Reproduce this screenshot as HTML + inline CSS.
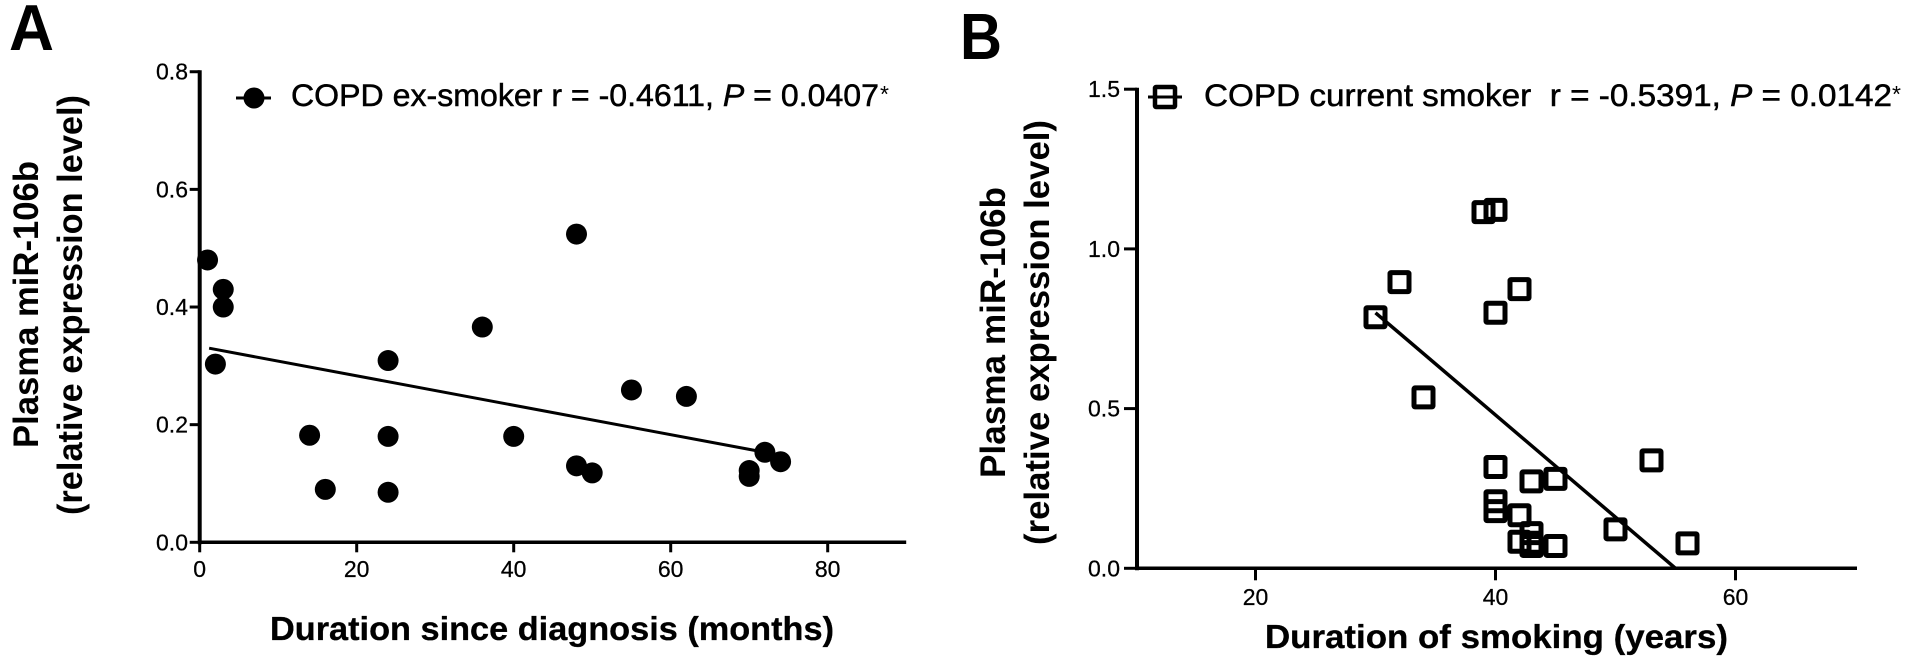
<!DOCTYPE html>
<html lang="en">
<head>
<meta charset="utf-8">
<title>Plasma miR-106b correlations</title>
<style>
html,body{margin:0;padding:0;background:#fff;}
svg{display:block;}
text{font-family:"Liberation Sans",Arial,sans-serif;fill:#000;}
.tick{font-size:23px;stroke:#000;stroke-width:.25px;}
.title{font-size:33px;font-weight:bold;stroke:#000;stroke-width:.3px;}
.ytitle{font-size:35px;font-weight:bold;}
.legend{font-size:31.5px;stroke:#000;stroke-width:.5px;}
.panel{font-size:65px;font-weight:bold;}
</style>
</head>
<body>
<svg id="fig" xmlns="http://www.w3.org/2000/svg" width="1913" height="670" viewBox="0 0 1913 670">
  <rect width="1913" height="670" fill="#fff"/>
  <text class="panel" x="9" y="50" textLength="45" lengthAdjust="spacingAndGlyphs">A</text>
  <text class="panel" x="960" y="59" textLength="42" lengthAdjust="spacingAndGlyphs">B</text>

  <g id="chartA">
    <text class="ytitle" transform="translate(38,448) rotate(-90)" textLength="287" lengthAdjust="spacingAndGlyphs">Plasma miR-106b</text>
    <text class="ytitle" transform="translate(82,515) rotate(-90)" textLength="420" lengthAdjust="spacingAndGlyphs">(relative expression level)</text>
    <text class="title" x="270" y="640" textLength="564" lengthAdjust="spacingAndGlyphs">Duration since diagnosis (months)</text>
    <text class="legend" x="291" y="106" textLength="588" lengthAdjust="spacingAndGlyphs">COPD ex-smoker r = -0.4611, <tspan font-style="italic">P</tspan> = 0.0407</text>
    <text x="880" y="102" font-size="23">*</text>
  </g>

  <g id="chartB">
    <text class="ytitle" transform="translate(1005,478) rotate(-90)" textLength="291" lengthAdjust="spacingAndGlyphs">Plasma miR-106b</text>
    <text class="ytitle" transform="translate(1049,545) rotate(-90)" textLength="425" lengthAdjust="spacingAndGlyphs">(relative expression level)</text>
    <text class="title" x="1265" y="648" textLength="463" lengthAdjust="spacingAndGlyphs">Duration of smoking (years)</text>
    <text class="legend" x="1204" y="106" textLength="688" lengthAdjust="spacingAndGlyphs" xml:space="preserve">COPD current smoker  r = -0.5391, <tspan font-style="italic">P</tspan> = 0.0142</text>
    <text x="1892" y="102" font-size="23">*</text>
  </g>
</svg>
<script>
// Panel A data
const aTicksX = [0, 20, 40, 60, 80];
const aTicksY = [0.0, 0.2, 0.4, 0.6, 0.8];
const aMonths = [1, 3, 3, 2, 14, 16, 24, 24, 24, 36, 40, 48, 48, 50, 55, 62, 70, 70, 72, 74];
const aLevels = [0.48, 0.43, 0.40, 0.303, 0.182, 0.09, 0.309, 0.18, 0.085, 0.366, 0.18, 0.524, 0.13, 0.118, 0.259, 0.248, 0.122, 0.112, 0.153, 0.137];
const aFitX = [1.2, 72];
const aFitY = [0.33, 0.153];

// Panel B data
const bTicksX = [20, 40, 60];
const bTicksY = [0.0, 0.5, 1.0, 1.5];
const bYears = [39, 40, 32, 42, 30, 40, 34, 40, 43, 45, 53, 40, 40, 42, 50, 56, 42, 43, 43, 43, 45];
const bLevels = [1.115, 1.122, 0.896, 0.874, 0.786, 0.80, 0.535, 0.317, 0.272, 0.28, 0.338, 0.21, 0.179, 0.166, 0.122, 0.078, 0.083, 0.11, 0.08, 0.07, 0.07];
const bFitX = [30, 55];
const bFitY = [0.80, 0.0];

const NS = 'http://www.w3.org/2000/svg';
function make(parent, tag, props, text) {
  const el = document.createElementNS(NS, tag);
  for (const k in props) el.setAttribute(k, props[k]);
  if (text !== undefined) el.textContent = text;
  parent.appendChild(el);
  return el;
}

// Axis functions
const ax = v => 199.7 + v * 7.85;
const ay = v => 542.3 - v * 588.2;
const bx = v => 1255.5 + (v - 20) * 12;
const by = v => 568.3 - v * 319.4;

// ---- Chart A ----
const gA = document.getElementById('chartA');
let el;
el = make(gA, 'line', {x1: ax(0), x2: ax(0), y1: ay(0.8) - 1.5, y2: ay(0) + 2, stroke: '#000', 'stroke-width': 4});


el = make(gA, 'line', {x1: ax(0), x2: ax(90), y1: ay(0), y2: ay(0), stroke: '#000', 'stroke-width': 3.5});



aTicksY.forEach(function (v) {
  const t = make(gA, 'line', {x1: ax(0) - 10, x2: ax(0), y1: ay(v), y2: ay(v), stroke: '#000', 'stroke-width': 3});
  
  
  const l = make(gA, 'text', {class: 'tick', x: 188, y: ay(v) + 8, 'text-anchor': 'end'}, v.toFixed(1));
  
  
});
aTicksX.forEach(function (v) {
  const t = make(gA, 'line', {x1: ax(v), x2: ax(v), y1: ay(0), y2: ay(0) + 10, stroke: '#000', 'stroke-width': 3});
  
  
  const l = make(gA, 'text', {class: 'tick', x: ax(v), y: 577, 'text-anchor': 'middle'}, String(v));
  
  
});

el = make(gA, 'line', {x1: ax(aFitX[0]), y1: ay(aFitY[0]), x2: ax(aFitX[1]), y2: ay(aFitY[1]), stroke: '#000', 'stroke-width': 3});



aMonths.forEach(function (m, i) {
  const p = make(gA, 'circle', {cx: ax(m), cy: ay(aLevels[i]), r: 10.5, fill: '#000'});
  
  
});

el = make(gA, 'line', {x1: 236, x2: 271, y1: 98, y2: 98, stroke: '#000', 'stroke-width': 3});


el = make(gA, 'circle', {cx: 254, cy: 98, r: 10.5, fill: '#000'});



// ---- Chart B ----
const gB = document.getElementById('chartB');
el = make(gB, 'line', {x1: 1137, x2: 1137, y1: by(1.5) - 1.5, y2: by(0) + 2, stroke: '#000', 'stroke-width': 4});


el = make(gB, 'line', {x1: 1137, x2: bx(70) + 1.5, y1: by(0), y2: by(0), stroke: '#000', 'stroke-width': 3.5});



bTicksY.forEach(function (v) {
  const t = make(gB, 'line', {x1: 1124, x2: 1137, y1: by(v), y2: by(v), stroke: '#000', 'stroke-width': 3});
  
  
  const l = make(gB, 'text', {class: 'tick', x: 1120, y: by(v) + 8, 'text-anchor': 'end'}, v.toFixed(1));
  
  
});
bTicksX.forEach(function (v) {
  const t = make(gB, 'line', {x1: bx(v), x2: bx(v), y1: by(0), y2: by(0) + 12, stroke: '#000', 'stroke-width': 3});
  
  
  const l = make(gB, 'text', {class: 'tick', x: bx(v), y: 605, 'text-anchor': 'middle'}, String(v));
  
  
});

el = make(gB, 'line', {x1: bx(bFitX[0]), y1: by(bFitY[0]), x2: bx(bFitX[1]), y2: by(bFitY[1]), stroke: '#000', 'stroke-width': 3.5});



bYears.forEach(function (yr, i) {
  const p = make(gB, 'rect', {x: bx(yr) - 9.5, y: by(bLevels[i]) - 9.5, width: 19, height: 19, rx: 1, fill: 'none', stroke: '#000', 'stroke-width': 5});
  
  
});

el = make(gB, 'line', {x1: 1148, x2: 1182, y1: 97, y2: 97, stroke: '#000', 'stroke-width': 3});


el = make(gB, 'rect', {x: 1155, y: 87, width: 20, height: 20, rx: 1, fill: 'none', stroke: '#000', 'stroke-width': 4.5});


</script>
</body>
</html>
